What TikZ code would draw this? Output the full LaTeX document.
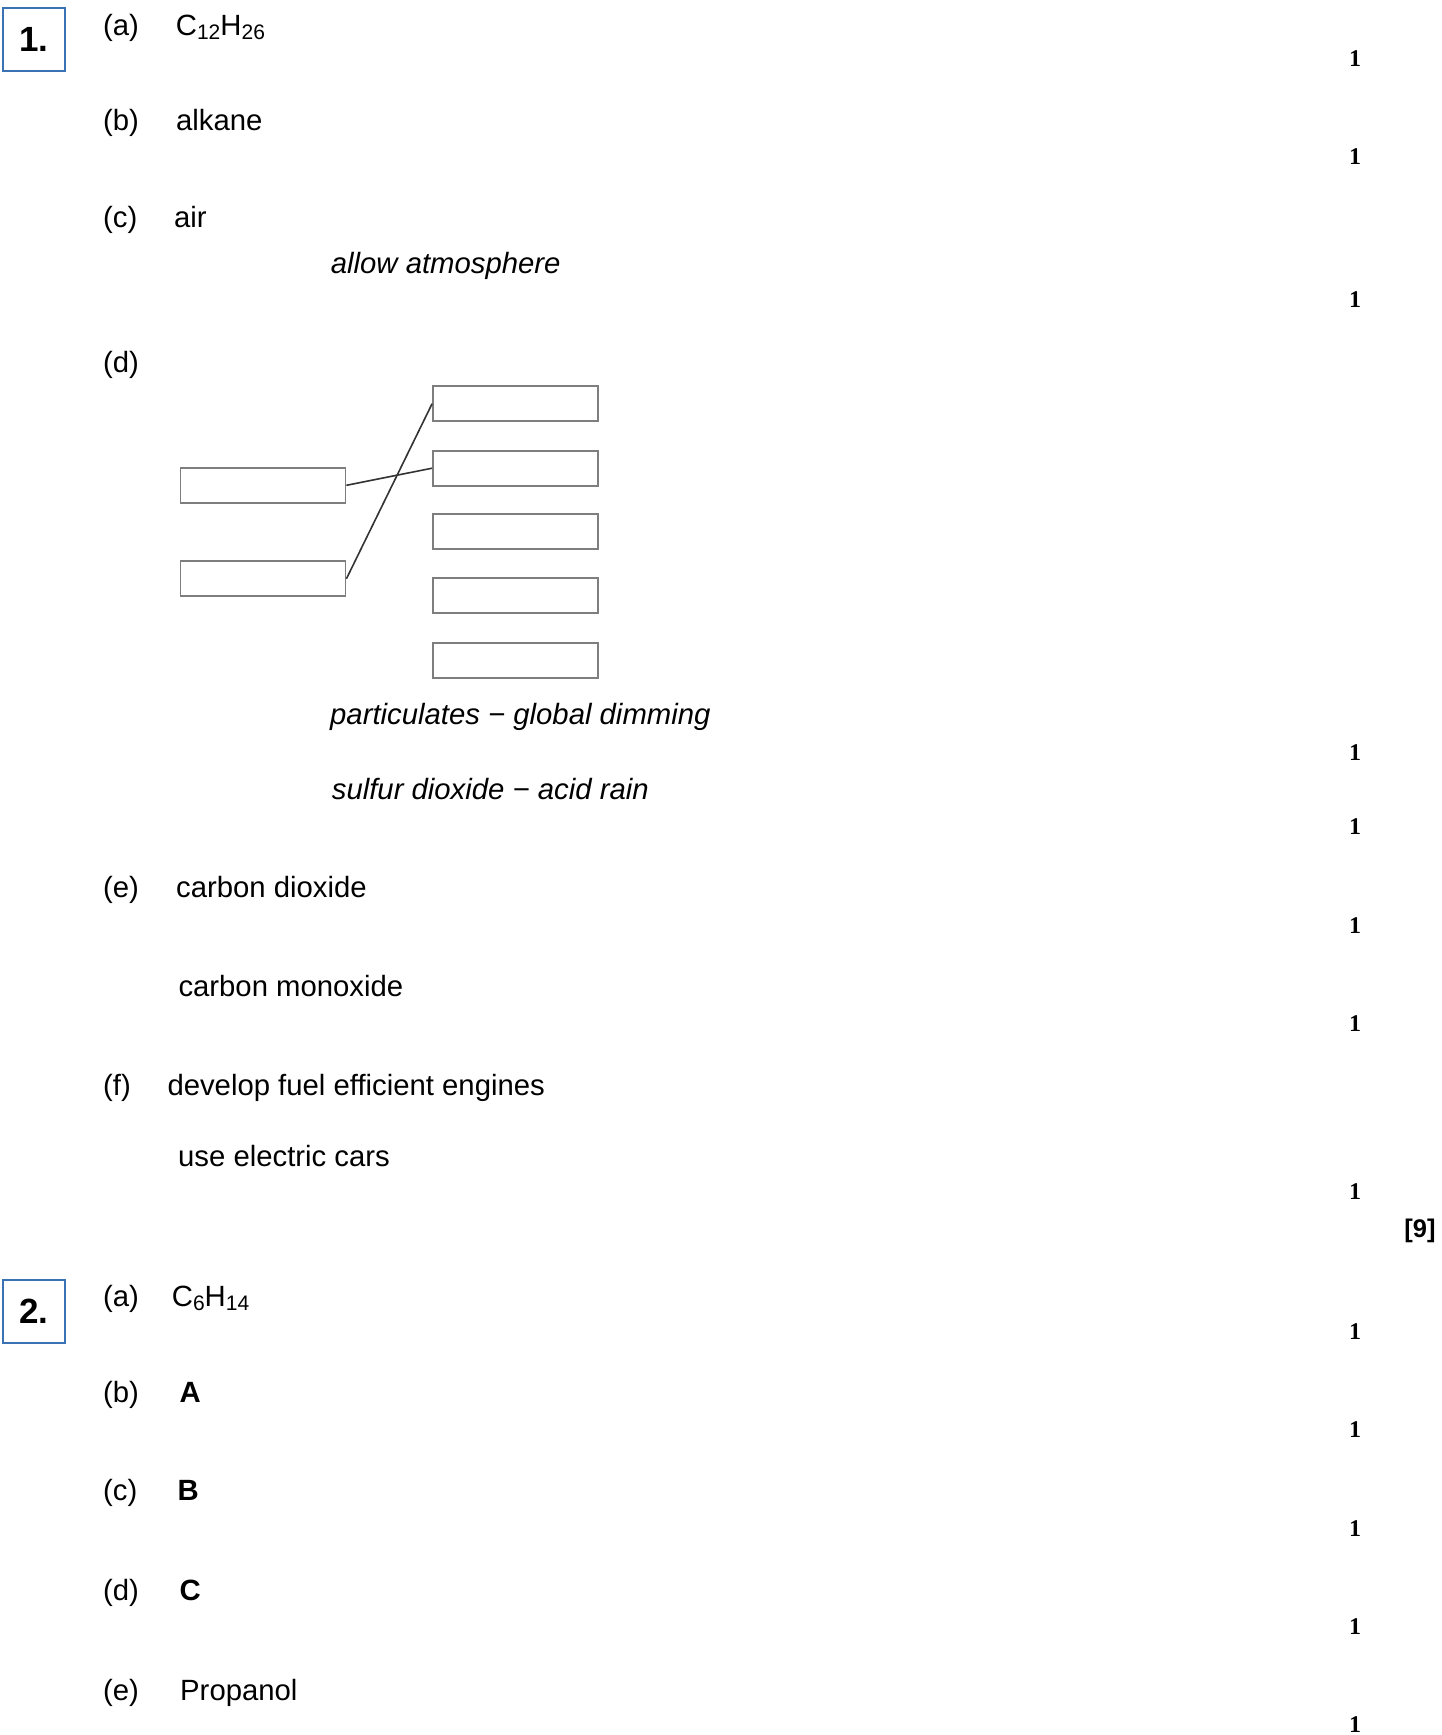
\documentclass[tikz,border=0pt]{standalone}
\usepackage{fontspec}
\setmainfont{Liberation Sans}
\newfontfamily\marksfont{Liberation Serif}
\definecolor{qblue}{HTML}{3A72B4}
\definecolor{boxgray}{HTML}{7E7E7E}
\definecolor{linegray}{HTML}{333333}
\newcommand{\sbs}[1]{\raisebox{-4bp}{\fontsize{21bp}{23bp}\selectfont #1}}
\tikzset{
  txt/.style={anchor=base west, inner sep=0pt, font=\fontsize{29.3bp}{35bp}\selectfont},
  mk/.style={anchor=base, inner sep=0pt, font=\marksfont\bfseries\fontsize{24bp}{28bp}\selectfont},
  qbox/.style={draw=qblue, line width=2bp, minimum width=62bp, minimum height=63bp, inner sep=0pt, font=\bfseries\fontsize{35bp}{40bp}\selectfont},
  ansbox/.style={draw=boxgray, line width=1.8bp, minimum width=165bp, minimum height=35bp, inner sep=0pt},
  conn/.style={draw=linegray, line width=1.6bp},
  total/.style={anchor=center, inner sep=0pt, font=\bfseries\fontsize{25.5bp}{28bp}\selectfont}
}
\begin{document}
\begin{tikzpicture}[x=1bp, y=-1bp]
\useasboundingbox (0,0) rectangle (1442,1735);
\fill[white] (0,0) rectangle (1442,1735);

% Question 1
\node[qbox] (q1) at (34,39.5) {1.};
\node[txt] (q1al) at (103,35) {(a)};
\node[txt] (q1a) at (175.7,35) {C\sbs{12}H\sbs{26}};
\node[txt] (q1bl) at (103,130) {(b)};
\node[txt] (q1b) at (176,130) {alkane};
\node[txt] (q1cl) at (103,227.7) {(c)};
\node[txt] (q1c) at (174,227.7) {air};
\node[txt] (q1c2) at (330.7,273.3) {\itshape allow atmosphere};
\node[txt] (q1dl) at (103,372.5) {(d)};

\node[ansbox] (R1) at (515.5,403.7) {};
\node[ansbox] (R2) at (515.5,468.2) {};
\node[ansbox] (R3) at (515.5,531.8) {};
\node[ansbox] (R4) at (515.5,595.8) {};
\node[ansbox] (R5) at (515.5,660.5) {};
\node[ansbox] (L1) at (263,485.3) {};
\node[ansbox] (L2) at (263,578.8) {};
\draw[conn] (L1.east) -- (R2.west);
\draw[conn] (L2.east) -- (R1.west);

\node[txt] (q1d1) at (330,724.3) {\itshape particulates − global dimming};
\node[txt] (q1d2) at (331.7,799.3) {\itshape sulfur dioxide − acid rain};
\node[txt] (q1el) at (103,897.7) {(e)};
\node[txt] (q1e1) at (176,897.7) {carbon dioxide};
\node[txt] (q1e2) at (178.3,996.7) {carbon monoxide};
\node[txt] (q1fl) at (103,1095) {(f)};
\node[txt] (q1f1) at (167.3,1095) {develop fuel efficient engines};
\node[txt] (q1f2) at (178,1166) {use electric cars};
\node[total] (tot1) at (1420,1231) {[9]};

% Question 2
\node[qbox] (q2) at (34,1311.5) {2.};
\node[txt] (q2al) at (103,1306.7) {(a)};
\node[txt] (q2a) at (171.7,1306.7) {C\sbs{6}H\sbs{14}};
\node[txt] (q2bl) at (103,1402.7) {(b)};
\node[txt] (q2b) at (179.3,1402.7) {\bfseries A};
\node[txt] (q2cl) at (103,1500) {(c)};
\node[txt] (q2c) at (177.3,1500) {\bfseries B};
\node[txt] (q2dl) at (103,1600) {(d)};
\node[txt] (q2d) at (179.3,1600) {\bfseries C};
\node[txt] (q2el) at (103,1700) {(e)};
\node[txt] (q2e) at (180,1700) {Propanol};

% Marks
\foreach \yy [count=\i] in {66.7,164,307.9,760.5,834.7,933.2,1031.7,1199.9,1339.3,1437.9,1536.3,1634.8,1732.2}
  \node[mk] (m\i) at (1355,\yy) {1};
\end{tikzpicture}
\end{document}
